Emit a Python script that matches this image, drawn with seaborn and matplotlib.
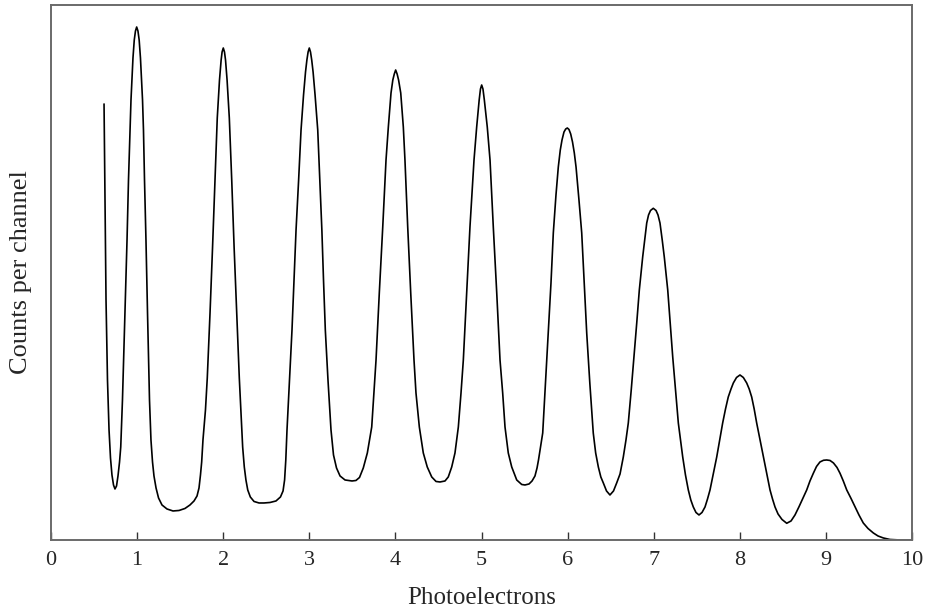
import numpy as np
import pandas as pd
import matplotlib
matplotlib.use("Agg")
import matplotlib.pyplot as plt
import seaborn as sns

# photoelectron number (x) and counts per channel (arbitrary units)
photoelectrons = [
    # start + peak 1
    0.616, 0.627, 0.639, 0.656, 0.674, 0.691, 0.708, 0.726, 0.743, 0.761,
    0.778, 0.796, 0.810, 0.830, 0.859, 0.883, 0.900, 0.918, 0.929, 0.941,
    0.952, 0.967, 0.981, 0.995, 1.010, 1.024, 1.039, 1.051, 1.063, 1.074,
    1.086, 1.103, 1.121, 1.144, 1.161, 1.179, 1.196, 1.220, 1.249, 1.289,
    1.347, 1.417, 1.487, 1.556, 1.614, 1.661, 1.696, 1.719, 1.736, 1.750, 1.765,
    # peak 2
    1.794, 1.815, 1.847, 1.876, 1.905, 1.931, 1.957, 1.976, 1.987, 2.001,
    2.015, 2.027, 2.045, 2.071, 2.099, 2.127, 2.157, 2.187, 2.226, 2.245,
    2.264, 2.285, 2.315, 2.358, 2.416, 2.474, 2.544, 2.613, 2.665, 2.695, 2.713, 2.727, 2.741,
    # peak 3
    2.770, 2.799, 2.822, 2.846, 2.876, 2.904, 2.933, 2.956, 2.972, 2.986, 3.000,
    3.014, 3.028, 3.044, 3.067, 3.098, 3.122, 3.146, 3.165, 3.186, 3.217,
    3.252, 3.281, 3.316, 3.357, 3.415, 3.496, 3.542,
    # peak 4
    3.583, 3.627, 3.674, 3.725, 3.751, 3.775, 3.813, 3.853, 3.891, 3.918,
    3.949, 3.970, 3.987, 4.003, 4.020, 4.037, 4.062, 4.092, 4.111, 4.143,
    4.178, 4.216, 4.239, 4.278, 4.324, 4.370, 4.422, 4.472, 4.518, 4.576,
    # peak 5
    4.614, 4.654, 4.692, 4.731, 4.762, 4.789, 4.828, 4.866, 4.913, 4.944,
    4.973, 4.988, 5.002, 5.017, 5.033, 5.067, 5.099, 5.137, 5.177, 5.215,
    5.246, 5.273, 5.311, 5.351, 5.409, 5.467, 5.505, 5.552, 5.587,
    # peak 6
    5.621, 5.645, 5.662, 5.685, 5.711, 5.743, 5.776, 5.807, 5.834, 5.865,
    5.892, 5.915, 5.935, 5.958, 5.978, 5.997, 6.016, 6.036, 6.057, 6.078,
    6.098, 6.132, 6.164, 6.193, 6.222, 6.258, 6.298, 6.326, 6.357, 6.386,
    6.415, 6.452, 6.492, 6.533,
    # peak 7
    6.570, 6.609, 6.647, 6.678, 6.705, 6.739, 6.771, 6.803, 6.833, 6.853,
    6.872, 6.895, 6.919, 6.940, 6.963, 6.995, 7.027, 7.050, 7.073, 7.099,
    7.123, 7.143, 7.163, 7.192, 7.221, 7.253, 7.286, 7.311, 7.337, 7.369,
    7.402, 7.431, 7.460, 7.491, 7.526, 7.561, 7.596,
    # peak 8
    7.625, 7.654, 7.692, 7.732, 7.767, 7.801, 7.834, 7.866, 7.898, 7.925,
    7.962, 8.002, 8.041, 8.080, 8.109, 8.138, 8.167, 8.196, 8.235, 8.273,
    8.312, 8.351, 8.380, 8.409, 8.444, 8.490, 8.545, 8.595,
    # peak 9 + tail
    8.641, 8.688, 8.734, 8.777, 8.815, 8.854, 8.891, 8.931, 8.972, 9.009,
    9.048, 9.088, 9.129, 9.164, 9.202, 9.242, 9.292, 9.338, 9.384, 9.434,
    9.489, 9.551, 9.605, 9.667, 9.744, 9.860, 10.0,
]
counts = [
    # start + peak 1
    436, 340, 240, 160, 110, 82, 65, 55, 51, 54,
    64, 78, 93, 140, 227, 300, 360, 410, 440, 462,
    482, 500, 509, 513, 509, 500, 482, 462, 440, 410,
    360, 300, 227, 140, 100, 78, 64, 52, 42, 35,
    31, 29, 29.5, 31.5, 35, 39, 44, 52, 65, 78, 100,
    # peak 2
    130, 162, 227, 292, 360, 422, 460, 480, 488, 492,
    488, 480, 460, 422, 360, 292, 227, 162, 93, 73,
    60, 50, 43, 38.5, 37, 37, 37.5, 39, 43, 49, 60, 80, 110,
    # peak 3
    160, 210, 260, 310, 360, 410, 445, 468, 480, 488, 492,
    488, 480, 468, 445, 410, 360, 310, 260, 210, 160,
    110, 85, 72, 64, 60, 59, 59.5,
    # peak 4
    62.5, 72, 87, 113, 147, 180, 247, 313, 380, 413,
    447, 460, 466, 470, 466, 460, 447, 413, 380, 313,
    247, 180, 147, 113, 87, 73, 63, 58.5, 58, 59,
    # peak 5
    63, 73, 87, 113, 147, 180, 247, 313, 380, 413,
    440, 451, 455, 451, 440, 413, 380, 313, 247, 180,
    147, 113, 87, 73, 60, 55.5, 55, 56, 59,
    # peak 6
    64, 72, 80, 93, 107, 157, 207, 257, 307, 345,
    373, 390, 400, 408, 411, 412, 410.5, 406, 398, 387,
    373, 340, 307, 257, 207, 157, 107, 87, 73, 63,
    57, 49, 45, 49,
    # peak 7
    57, 66, 83, 100, 117, 150, 183, 217, 250, 267,
    283, 300, 317, 325, 329.5, 331.7, 329.5, 325, 317, 300,
    283, 267, 250, 217, 183, 150, 117, 100, 83, 65,
    50, 40, 33, 27.5, 25, 27.5, 33,
    # peak 8
    41, 50, 66, 83, 100, 117, 131, 143, 151, 157,
    162.5, 165, 162.5, 157, 151, 143, 131, 117, 100, 83,
    66, 50, 41, 33, 26, 20.5, 16.7, 19,
    # peak 9 + tail
    25, 33.3, 42, 50, 59, 66.7, 73.5, 78, 79.7, 80,
    79.5, 77, 72.5, 66.7, 59, 50, 41.5, 33.3, 25, 17,
    11.5, 7, 4, 2, 0.5, 0, 0,
]
xticks = list(range(11))

df = pd.DataFrame({"Photoelectrons": photoelectrons, "Counts": counts})

sns.set_style("white")
plt.rcParams['font.family'] = ['Liberation Serif', 'DejaVu Serif']

fig = plt.figure(figsize=(9.29, 6.10), dpi=100)
ax = fig.add_axes([0.0549, 0.1148, 0.9268, 0.877])

sns.lineplot(data=df, x="Photoelectrons", y="Counts", estimator=None, sort=False,
             color="black", linewidth=1.2, ax=ax)

ax.set_xlim(0, 10)
ax.set_ylim(0, 535)
ax.set_xticks(xticks)
ax.set_xticklabels([str(t) for t in xticks], fontsize=16)
ax.set_yticks([])
ax.tick_params(axis="x", direction="in", length=6, width=1, color="#333333",
               pad=8, bottom=True)

for sp in ax.spines.values():
    sp.set_color("#6a6a6a")
    sp.set_linewidth(1.4)

ax.set_xlabel("Photoelectrons", fontsize=18, labelpad=12)
ax.set_ylabel("Counts per channel", fontsize=19, labelpad=14)

fig.savefig("out.png", dpi=100)
